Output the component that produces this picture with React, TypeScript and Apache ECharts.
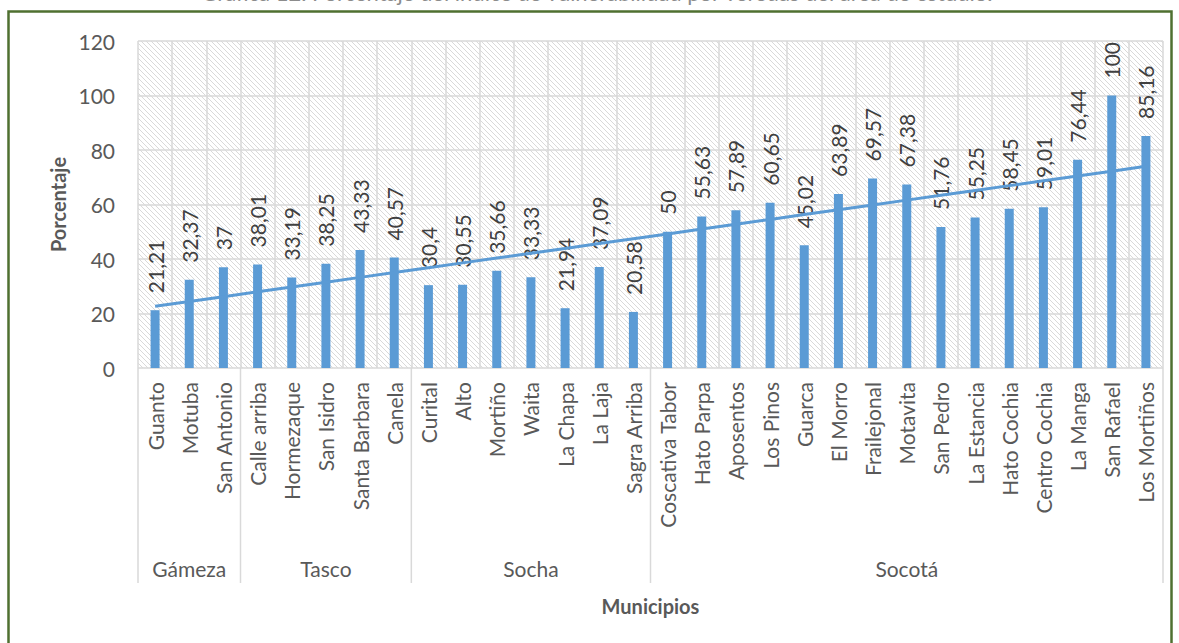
import React, { useEffect, useRef } from "react";
import * as echarts from "echarts";

const groups = ["Gámeza", "Tasco", "Socha", "Socotá"];
const groupSizes = [3, 5, 7, 15];
const categories = [
  "Guanto", "Motuba", "San Antonio",
  "Calle arriba", "Hormezaque", "San Isidro", "Santa Barbara", "Canela",
  "Curital", "Alto", "Mortiño", "Waita", "La Chapa", "La Laja", "Sagra Arriba",
  "Coscativa Tabor", "Hato Parpa", "Aposentos", "Los Pinos", "Guarca", "El Morro",
  "Frailejonal", "Motavita", "San Pedro", "La Estancia", "Hato Cochia",
  "Centro Cochia", "La Manga", "San Rafael", "Los Mortiños",
];
const values = [
  21.21, 32.37, 37,
  38.01, 33.19, 38.25, 43.33, 40.57,
  30.4, 30.55, 35.66, 33.33, 21.94, 37.09, 20.58,
  50, 55.63, 57.89, 60.65, 45.02, 63.89, 69.57, 67.38, 51.76, 55.25, 58.45, 59.01, 76.44, 100, 85.16,
];
const yMin = 0;
const yMax = 120;
const yStep = 20;
const titleText = "Gráfica 12. Porcentaje del índice de vulnerabilidad por veredas del área de estudio.";
const yTitle = "Porcentaje";
const xTitle = "Municipios";

// Linear trend (least squares), as the spreadsheet's trendline does
const trend = (() => {
  const n = values.length;
  const xs = values.map((_, i) => i + 1);
  const mx = xs.reduce((a, b) => a + b, 0) / n;
  const my = values.reduce((a, b) => a + b, 0) / n;
  let sxy = 0, sxx = 0;
  for (let i = 0; i < n; i++) {
    sxy += (xs[i] - mx) * (values[i] - my);
    sxx += (xs[i] - mx) * (xs[i] - mx);
  }
  const b = sxy / sxx;
  const a = my - b * mx;
  return xs.map((x) => +(a + b * x).toFixed(3));
})();

// group name per center index
const groupStarts: number[] = [];
const groupAt: Record<number, string> = {};
{
  let s = 0;
  groupSizes.forEach((sz, gi) => {
    groupStarts.push(s);
    groupAt[s + Math.floor(sz / 2)] = groups[gi];
    s += sz;
  });
  groupStarts.push(s);
}

const FONT = "Lato, 'Open Sans', sans-serif";
const GRID = "#d9d9d9";
const TXT = "#595959";

const hatch =
  "data:image/svg+xml;utf8," +
  encodeURIComponent(
    '<svg xmlns="http://www.w3.org/2000/svg" width="5" height="5"><rect width="5" height="5" fill="#ffffff"/><path d="M-1,-1 L6,6 M-1,4 L1,6 M4,-1 L6,1" stroke="#d9d9d9" stroke-width="1"/></svg>'
  );

const App = () => {
  const ref = useRef<HTMLDivElement>(null);
  useEffect(() => {
    const chart = echarts.init(ref.current!, null, { renderer: "svg" });
    const option: any = {
      animation: false,
      backgroundColor: "#ffffff",
      textStyle: { fontFamily: FONT },
      grid: {
        left: 138,
        right: 16,
        top: 41,
        bottom: 275,
        show: true,
        borderWidth: 0,
        backgroundColor: { image: hatch, repeat: "repeat", imageWidth: 5, imageHeight: 5 },
      },
      xAxis: [
        {
          type: "category",
          data: categories,
          position: "bottom",
          axisLine: { show: false },
          axisTick: { show: false },
          axisLabel: {
            interval: 0,
            rotate: 90,
            margin: 14,
            fontSize: 21,
            color: TXT,
            fontFamily: FONT,
          },
          splitLine: { show: true, interval: 0, lineStyle: { color: GRID, width: 1.5 } },
          name: xTitle,
          nameLocation: "middle",
          nameGap: 228,
          nameTextStyle: { fontSize: 20, fontWeight: "bold", color: TXT, fontFamily: FONT },
        },
        {
          type: "category",
          data: categories,
          position: "bottom",
          gridIndex: 0,
          axisLine: { show: false },
          axisTick: { show: false },
          splitLine: { show: false },
          axisLabel: {
            interval: (i: number) => groupAt[i] !== undefined,
            formatter: (_v: string, i: number) => groupAt[i] || "",
            margin: 190,
            fontSize: 21,
            color: TXT,
            fontFamily: FONT,
          },
        },
      ],
      yAxis: {
        type: "value",
        min: yMin,
        max: yMax,
        interval: yStep,
        axisLine: { show: false },
        axisTick: { show: false },
        axisLabel: { margin: 23, fontSize: 21, color: TXT, fontFamily: FONT },
        splitLine: { show: true, lineStyle: { color: GRID, width: 1.5 } },
        name: yTitle,
        nameLocation: "middle",
        nameRotate: 90,
        nameGap: 70,
        nameTextStyle: { fontSize: 20, fontWeight: "bold", color: TXT, fontFamily: FONT },
      },
      series: [
        {
          type: "bar",
          data: values,
          barWidth: 9,
          itemStyle: { color: "#5b9bd5" },
          label: {
            show: true,
            position: "top",
            rotate: 90,
            align: "left",
            verticalAlign: "middle",
            distance: 17,
            fontSize: 21,
            color: "#404040",
            fontFamily: FONT,
            formatter: (p: any) => String(p.value).replace(".", ","),
          },
          z: 2,
        },
        {
          type: "line",
          data: trend,
          symbol: "none",
          lineStyle: { color: "#5b9bd5", width: 3 },
          itemStyle: { color: "#5b9bd5" },
          z: 3,
          silent: true,
        },
      ],
      graphic: [
        {
          id: "border",
          type: "rect",
          shape: { x: 8.5, y: 11.5, width: 1163, height: 700 },
          style: { fill: "none", stroke: "#4f7030", lineWidth: 2.5 },
          z: 100,
        },
        {
          id: "title",
          type: "text",
          x: 597,
          y: 3.5,
          style: {
            text: titleText,
            fontSize: 22,
            fontFamily: FONT,
            fill: "#8c8c8c",
            align: "center",
            verticalAlign: "bottom",
          },
        },
      ],
    };
    chart.setOption(option);

    const x0 = chart.convertToPixel({ xAxisIndex: 0 }, 0) as number;
    const x1 = chart.convertToPixel({ xAxisIndex: 0 }, 1) as number;
    const bw = x1 - x0;
    const yBottom = chart.convertToPixel({ yAxisIndex: 0 }, yMin) as number;
    const seps = groupStarts.map((b, k) => {
      const x = x0 - bw / 2 + bw * b;
      return {
        id: "sep" + k,
        type: "line",
        shape: { x1: x, y1: yBottom, x2: x, y2: yBottom + 215 },
        style: { stroke: GRID, lineWidth: 1.5 },
        silent: true,
      };
    });
    chart.setOption({ graphic: seps });
    return () => chart.dispose();
  }, []);
  return (
    <div
      ref={ref}
      style={{ position: "absolute", left: 0, top: 0, width: 1179, height: 643 }}
    />
  );
};

export default App;
